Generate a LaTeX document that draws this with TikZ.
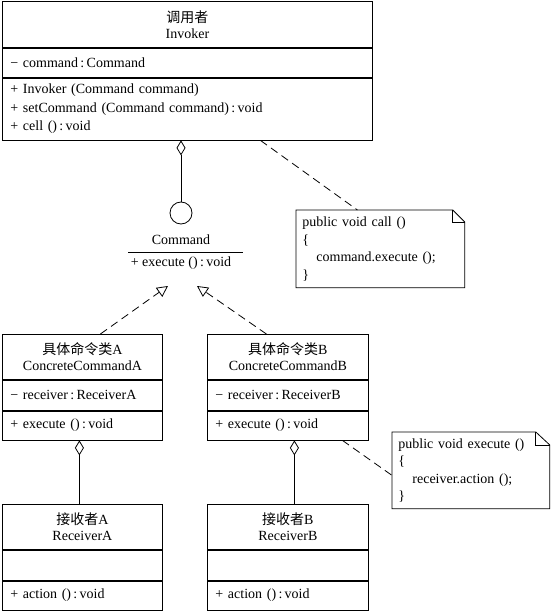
\documentclass[tikz,border=0pt]{standalone}
\usepackage{fontspec}
\setmainfont{Liberation Serif}
\newfontfamily\cjk{Noto Sans CJK SC}
\usetikzlibrary{arrows.meta}

\begin{document}
\begin{tikzpicture}[x=1pt,y=-1pt,line width=0.8pt,
    head/.style={draw,anchor=north west,inner sep=0pt,align=center,
        font={\fontsize{14}{16}\selectfont}},
    body/.style={draw,anchor=north west,inner xsep=8pt,inner ysep=0pt,align=left,
        font={\fontsize{14}{18.5}\selectfont}},
    notebox/.style={anchor=north west,inner xsep=6pt,inner ysep=0pt,align=left,
        font={\fontsize{14}{17.5}\selectfont}},
    dashes/.style={dash pattern=on 8pt off 5pt},
    aggr/.style={{Diamond[open,length=15pt,width=9pt]}-},
    gen/.style={dashes,-{Triangle[open,length=11pt,width=11pt]}}]
\useasboundingbox (0,0) rectangle (550,612);

% Invoker
\node[head,text width=370pt,minimum height=46pt] (inv-t) at (2,1) {{\cjk 调用者}\\Invoker};
\node[body,text width=354pt,minimum height=29pt] (inv-a) at (inv-t.south west) {− command\,:\,Command};
\node[body,text width=354pt,minimum height=62pt] (inv-m) at (inv-a.south west)
    {+ Invoker (Command command)\\+ setCommand (Command command)\,:\,void\\+ cell ()\,:\,void};

% Command interface
\node[draw,circle,minimum size=22pt,inner sep=0pt] (cmd) at (181,213) {};
\node[font={\fontsize{14}{16}\selectfont}] (cmd-name) at (181,240) {Command};
\node[font={\fontsize{14}{16}\selectfont}] (cmd-op) at (181,263) {+ execute ()\,:\,void};
\draw (128,252)--(243,252);
\coordinate (tipA) at (168,286);
\coordinate (tipB) at (197,286);

% concrete commands
\node[head,text width=160pt,minimum height=45pt] (cca-t) at (2,334) {{\cjk 具体命令类}A\\ConcreteCommandA};
\node[body,text width=144pt,minimum height=30pt] (cca-a) at (cca-t.south west) {− receiver\,:\,ReceiverA};
\node[body,text width=144pt,minimum height=29pt] (cca-m) at (cca-a.south west) {+ execute ()\,:\,void};

\node[head,text width=161pt,minimum height=45pt] (ccb-t) at (207,334) {{\cjk 具体命令类}B\\ConcreteCommandB};
\node[body,text width=145pt,minimum height=30pt] (ccb-a) at (ccb-t.south west) {− receiver\,:\,ReceiverB};
\node[body,text width=145pt,minimum height=29pt] (ccb-m) at (ccb-a.south west) {+ execute ()\,:\,void};

% receivers
\node[head,text width=160pt,minimum height=45pt] (ra-t) at (2,504) {{\cjk 接收者}A\\ReceiverA};
\node[body,text width=144pt,minimum height=30pt] (ra-a) at (ra-t.south west) {};
\node[body,text width=144pt,minimum height=29pt] (ra-m) at (ra-a.south west) {+ action ()\,:\,void};

\node[head,text width=161pt,minimum height=45pt] (rb-t) at (207,504) {{\cjk 接收者}B\\ReceiverB};
\node[body,text width=145pt,minimum height=30pt] (rb-a) at (rb-t.south west) {};
\node[body,text width=145pt,minimum height=29pt] (rb-m) at (rb-a.south west) {+ action ()\,:\,void};

% notes
\node[notebox,text width=156pt,minimum height=77pt] (note1) at (296,210)
    {public void call ()\\\{\\\quad command.execute ();\\\}};
\draw (note1.north west)--([xshift=-12pt]note1.north east)--([yshift=-12pt]note1.north east)
    --(note1.south east)--(note1.south west)--cycle;
\draw ([xshift=-12pt]note1.north east) |- ([yshift=-12pt]note1.north east);

\node[notebox,text width=145pt,minimum height=76pt] (note2) at (392,432)
    {public void execute ()\\\{\\\quad receiver.action ();\\\}};
\draw (note2.north west)--([xshift=-14pt]note2.north east)--([yshift=-13pt]note2.north east)
    --(note2.south east)--(note2.south west)--cycle;
\draw ([xshift=-14pt]note2.north east) |- ([yshift=-13pt]note2.north east);

% connectors
\draw[aggr] (cmd |- inv-m.south)--(cmd.north);
\draw[aggr] ([xshift=-3pt]cca-m.south)--([xshift=-3pt]ra-t.north);
\draw[aggr] ([xshift=6.5pt]ccb-m.south)--([xshift=6.5pt]rb-t.north);
\draw[gen] ([xshift=18pt]cca-t.north)--(tipA);
\draw[gen] ([xshift=-21.5pt]ccb-t.north)--(tipB);
\draw[dashes] ([xshift=73pt]inv-m.south)--([xshift=-23pt]note1.north);
\draw[dashes] ([xshift=54.5pt]ccb-m.south)--([yshift=-5pt]note2.west);
\end{tikzpicture}
\end{document}
